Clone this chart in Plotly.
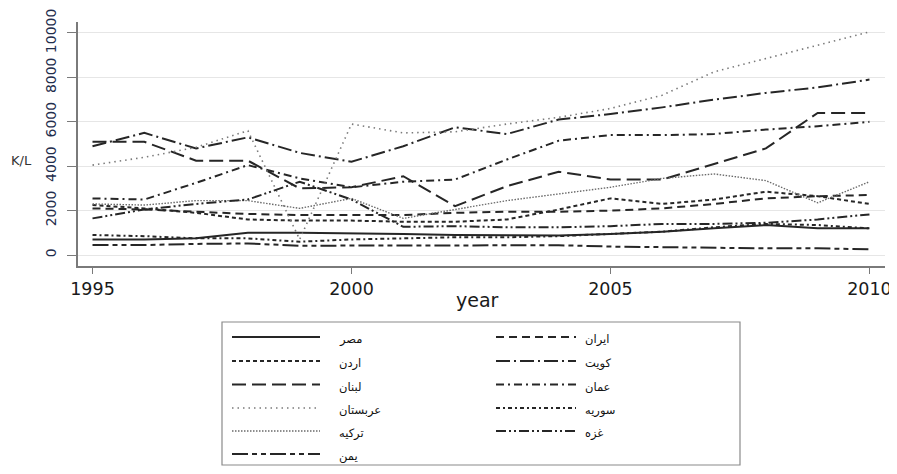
import plotly.graph_objects as go

years = list(range(1995, 2011))

names = ["مصر", "ایران", "اردن", "کویت", "لبنان", "عمان", "عربستان", "سوریه", "ترکیه", "غزه", "یمن"]

egypt   = [700, 700, 750, 1000, 1000, 980, 950, 900, 880, 880, 950, 1050, 1200, 1350, 1200, 1200]
iran    = [2100, 2050, 1950, 1850, 1800, 1800, 1800, 1900, 1950, 1950, 2000, 2100, 2300, 2550, 2650, 2700]
jordan  = [2250, 2100, 1900, 1600, 1550, 1550, 1500, 1500, 1600, 2050, 2550, 2300, 2500, 2850, 2650, 2300]
kuwait  = [4900, 5500, 4800, 5300, 4600, 4200, 4900, 5750, 5450, 6100, 6350, 6650, 7000, 7300, 7550, 7900]
lebanon = [5100, 5100, 4250, 4250, 3000, 3050, 3550, 2200, 3100, 3750, 3400, 3400, 4100, 4800, 6400, 6400]
oman    = [2550, 2500, 3250, 4050, 3450, 3050, 3300, 3400, 4300, 5150, 5400, 5400, 5450, 5650, 5800, 6000]
saudi   = [4050, 4400, 4850, 5600, 700, 5900, 5500, 5550, 5900, 6200, 6600, 7200, 8250, 8850, 9450, 10050]
syria   = [900, 850, 750, 750, 600, 700, 750, 800, 800, 850, 950, 1050, 1250, 1400, 1350, 1200]
turkey  = [2300, 2250, 2450, 2450, 2100, 2550, 1650, 2050, 2450, 2750, 3050, 3450, 3650, 3350, 2350, 3300]
gaza    = [1650, 2050, 2300, 2500, 3300, 2500, 1270, 1300, 1250, 1250, 1300, 1400, 1400, 1450, 1600, 1830]
yemen   = [450, 450, 500, 520, 420, 420, 420, 430, 450, 440, 380, 350, 350, 300, 300, 260]

series = [egypt, iran, jordan, kuwait, lebanon, oman, saudi, syria, turkey, gaza, yemen]

dark = "#262626"
grey = "#7a7a7a"
styles = [
    dict(dash="solid", width=2.0, color=dark),                  # مصر
    dict(dash="8px,5px", width=2.0, color=dark),                # ایران
    dict(dash="4px,3px", width=2.0, color=dark),                # اردن
    dict(dash="14px,4px,2px,4px", width=2.0, color=dark),       # کویت
    dict(dash="14px,6px", width=2.0, color=dark),               # لبنان
    dict(dash="8px,4px,2px,4px", width=2.0, color=dark),        # عمان
    dict(dash="1.5px,4px", width=1.6, color=grey),              # عربستان
    dict(dash="4px,3px,2px,3px", width=2.0, color=dark),        # سوریه
    dict(dash="1.5px,1.5px", width=1.4, color="#6a6a6a"),       # ترکیه
    dict(dash="10px,3px,2px,3px,2px,3px", width=2.0, color=dark),  # غزه
    dict(dash="16px,4px,5px,4px,5px,4px", width=2.0, color=dark),  # یمن
]

# page body has an 8px default margin; work in page pixels and convert
OFF = 8
W, H = 897 - OFF, 474 - 2 * OFF
plot_l, plot_r, plot_t, plot_b = 78, 885, 22, 266   # page pixels
ml = plot_l - OFF
mt = plot_t - OFF
mr = W - (plot_r - OFF)
mb = H - (plot_b - OFF)
pw, ph = plot_r - plot_l, plot_b - plot_t

def px(x):
    return (x - plot_l) / pw

def py(y):
    return (plot_b - y) / ph

fig = go.Figure()
for name, vals, st in zip(names, series, styles):
    fig.add_trace(go.Scatter(
        x=years, y=vals, mode="lines", name=name, showlegend=False,
        line=dict(color=st["color"], width=st["width"], dash=st["dash"]),
    ))

shapes = []
annotations = []

# legend box
shapes.append(dict(type="rect", xref="paper", yref="paper",
                   x0=px(222), x1=px(740), y0=py(465), y1=py(322),
                   line=dict(color="#8a8a8a", width=1.2), fillcolor="white"))

row_y = [337, 361, 384.5, 408, 431, 454]
col1_idx = [0, 2, 4, 6, 8, 10]
col2_idx = [1, 3, 5, 7, 9]
lab_font = dict(family="DejaVu Sans", size=11.5, color="#111")
for r, i in enumerate(col1_idx):
    st = styles[i]
    shapes.append(dict(type="line", xref="paper", yref="paper",
                       x0=px(232), x1=px(320), y0=py(row_y[r]), y1=py(row_y[r]),
                       line=dict(color=st["color"], width=st["width"], dash=st["dash"])))
    annotations.append(dict(xref="paper", yref="paper", x=px(337), y=py(row_y[r] + 2),
                            text=names[i], showarrow=False, xanchor="left", yanchor="middle",
                            font=lab_font))
for r, i in enumerate(col2_idx):
    st = styles[i]
    shapes.append(dict(type="line", xref="paper", yref="paper",
                       x0=px(496), x1=px(576), y0=py(row_y[r]), y1=py(row_y[r]),
                       line=dict(color=st["color"], width=st["width"], dash=st["dash"])))
    annotations.append(dict(xref="paper", yref="paper", x=px(583), y=py(row_y[r] + 2),
                            text=names[i], showarrow=False, xanchor="left", yanchor="middle",
                            font=lab_font))

annotations.append(dict(xref="paper", yref="paper", x=px(22), y=py(160), text="K/L",
                        showarrow=False, xanchor="center", yanchor="middle",
                        font=dict(family="DejaVu Sans", size=13, color="#333")))
annotations.append(dict(xref="paper", yref="paper", x=px(477), y=py(300), text="year",
                        showarrow=False, xanchor="center", yanchor="middle",
                        font=dict(family="DejaVu Sans", size=19, color="#1a1a1a")))

yticks = [0, 2000, 4000, 6000, 8000, 10000]
xticks = [1995, 2000, 2005, 2010]

fig.update_layout(
    template="none",
    width=W, height=H,
    margin=dict(l=ml, r=mr, t=mt, b=mb, autoexpand=False),
    paper_bgcolor="white", plot_bgcolor="white",
    shapes=shapes, annotations=annotations,
    xaxis=dict(range=[1994.72, 2010.3], tickvals=xticks, ticktext=[str(v) for v in xticks],
               automargin=False,
               showgrid=False, zeroline=False, showline=True, linecolor="#7a7a7a", linewidth=1.5,
               ticks="outside", ticklen=6, tickcolor="#7a7a7a", tickwidth=1.3,
               ticklabeloverflow="allow",
               tickfont=dict(family="DejaVu Sans", size=17.5, color="#1a1a1a")),
    yaxis=dict(range=[-495, 10495], tickvals=yticks, ticktext=[str(v) for v in yticks],
               automargin=False,
               showgrid=True, gridcolor="#e6e6e6", gridwidth=1.2, zeroline=False,
               showline=True, linecolor="#7a7a7a", linewidth=1.5,
               ticks="outside", ticklen=9, tickcolor="#7a7a7a", tickwidth=1.3, tickangle=-90,
               ticklabelstandoff=6, ticklabeloverflow="allow",
               tickfont=dict(family="DejaVu Sans", size=14, color="#1f2d4d")),
)

fig.write_html("out.html")
